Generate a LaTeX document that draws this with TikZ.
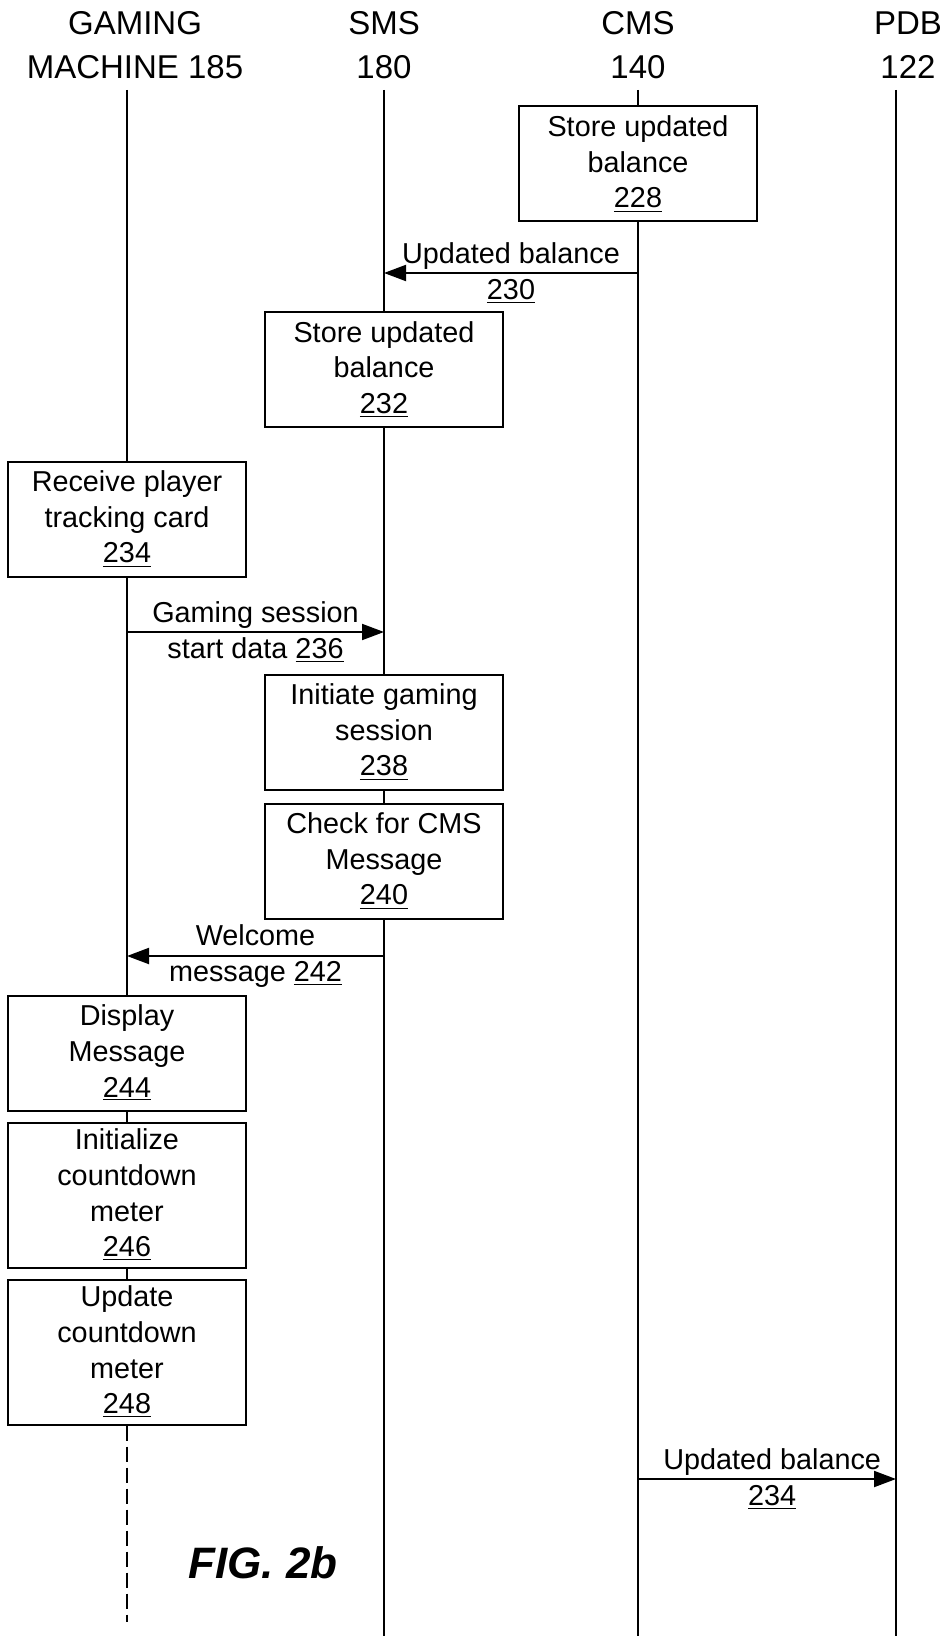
\documentclass[tikz,border=0pt]{standalone}
\usepackage{fontspec}
\setmainfont{Liberation Sans}
\usetikzlibrary{arrows.meta, positioning}

\tikzset{
  stepbox/.style={draw, line width=1pt, fill=white, minimum width=119pt, minimum height=57.5pt, inner sep=0pt, align=center, font=\fontsize{14.4}{17.8}\selectfont},
  tallbox/.style={stepbox, minimum height=72.5pt},
  msg/.style={line width=1pt, -{Triangle[length=11pt,width=8pt]}},
  msglabel/.style={align=center, inner sep=0pt, font=\fontsize{14.4}{17.8}\selectfont},
  header/.style={align=center, inner sep=0pt, font=\fontsize{16.5}{22}\selectfont},
  lifeline/.style={line width=1pt}
}

\begin{document}
\begin{tikzpicture}[x=0.5pt, y=-0.5pt]
  \useasboundingbox (0,0) rectangle (942,1636);

  % Lifeline heads
  \node[header] (hGM)  at (135,45) {GAMING\\MACHINE 185};
  \node[header] (hSMS) at (384,45) {SMS\\180};
  \node[header] (hCMS) at (638,45) {CMS\\140};
  \node[header] (hPDB) at (908,45) {PDB\\122};

  \coordinate (gmTop)  at (127,90);
  \coordinate (smsTop) at (384,90);
  \coordinate (cmsTop) at (638,90);
  \coordinate (pdbTop) at (896,90);
  \coordinate (gmEnd)  at (127,1622);
  \coordinate (smsEnd) at (384,1636);
  \coordinate (cmsEnd) at (638,1636);
  \coordinate (pdbEnd) at (896,1636);

  \draw[lifeline] (smsTop) -- (smsEnd);
  \draw[lifeline] (cmsTop) -- (cmsEnd);
  \draw[lifeline] (pdbTop) -- (pdbEnd);

  % Steps
  \node[stepbox] (b228) at (638,164) {Store updated\\balance\\\underline{228}};
  \node[stepbox] (b232) at (384,369.5) {Store updated\\balance\\\underline{232}};
  \node[stepbox] (b234) at (127,519) {Receive player\\tracking card\\\underline{234}};
  \node[stepbox] (b238) at (384,732) {Initiate gaming\\session\\\underline{238}};
  \node[stepbox, below=6pt of b238] (b240) {Check for CMS\\Message\\\underline{240}};
  \node[stepbox] (b244) at (127,1053) {Display\\Message\\\underline{244}};
  \node[tallbox, below=5pt of b244] (b246) {Initialize\\countdown\\meter\\\underline{246}};
  \node[tallbox, below=5pt of b246] (b248) {Update\\countdown\\meter\\\underline{248}};

  % Gaming machine lifeline, dashed below the last step
  \draw[lifeline] (gmTop) -- (b234.north);
  \draw[lifeline] (b234.south) -- (b244.north);
  \draw[lifeline] (b244.south) -- (b246.north);
  \draw[lifeline] (b246.south) -- (b248.north);
  \draw[lifeline, dash pattern=on 7.5pt off 3pt] (b248.south) -- (gmEnd);

  % Messages
  \coordinate (m230a) at (638,273);
  \coordinate (m230b) at (384,273);
  \draw[msg] (m230a) -- (m230b) node[midway, msglabel] {Updated balance\\\underline{230}};

  \coordinate (m236a) at (127,632);
  \coordinate (m236b) at (384,632);
  \draw[msg] (m236a) -- (m236b) node[midway, msglabel] {Gaming session\\start data \underline{236}};

  \coordinate (m242a) at (384,956);
  \coordinate (m242b) at (127,956);
  \draw[msg] (m242a) -- (m242b) node[midway, msglabel] {Welcome\\message \underline{242}};

  \coordinate (m234a) at (638,1479);
  \coordinate (m234b) at (896,1479);
  \draw[msg] (m234a) -- (m234b) node[pos=0.52, msglabel] {Updated balance\\\underline{234}};

  \node[font=\fontsize{22}{26}\selectfont\bfseries\itshape, inner sep=0pt] (fig) at (263,1563) {FIG. 2b};
\end{tikzpicture}
\end{document}
